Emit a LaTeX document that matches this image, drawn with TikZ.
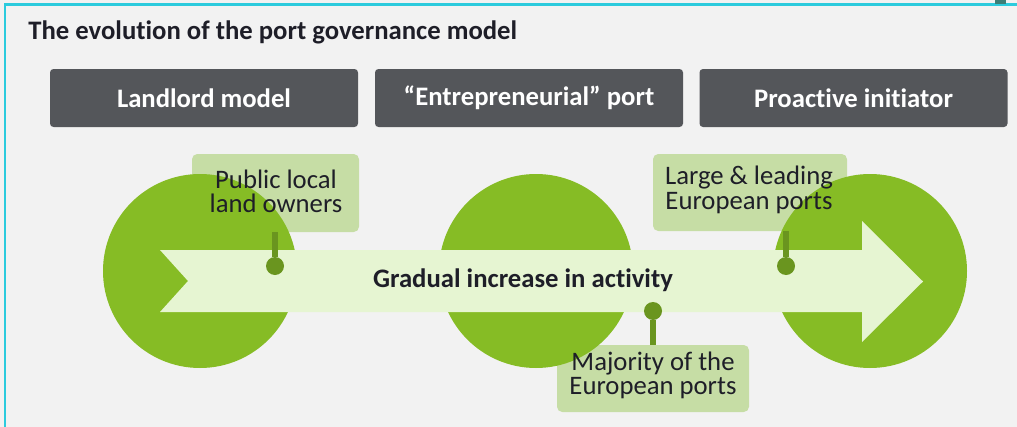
\documentclass[tikz,border=0pt]{standalone}
\usepackage{fontspec}
\setmainfont{Carlito}[Ligatures=NoCommon]
\definecolor{bggray}{HTML}{F2F2F2}
\definecolor{framecyan}{HTML}{2CCBDD}
\definecolor{darkteal}{HTML}{3C7E78}
\definecolor{headgray}{HTML}{54565A}
\definecolor{ballgreen}{HTML}{86BC25}
\definecolor{arrowgreen}{HTML}{E6F5D2}
\definecolor{labelgreen}{HTML}{C6DDA5}
\definecolor{pingreen}{HTML}{6A951F}
\definecolor{textdark}{HTML}{1E1E28}
\def\s{0.02}
\def\punkt#1#2{({(#1)*\s},{-(#2)*\s})}

\begin{document}
\begin{tikzpicture}[
  header/.style={fill=headgray,rounded corners=2pt,text=white,inner sep=0pt,
    font=\bfseries\fontsize{15.2}{18}\selectfont,
    minimum width=308*\s cm,minimum height=58*\s cm},
  ball/.style={circle,fill=ballgreen,inner sep=0pt,minimum size=194*\s cm},
  labelbox/.style={fill=labelgreen,rounded corners=3pt,inner sep=0pt},
  labeltext/.style={text=textdark,align=center,inner sep=0pt,
    font=\fontsize{15.2}{13.8}\selectfont},
  pin/.style={draw=pingreen,line width=3.4pt},
  pindot/.style={circle,fill=pingreen,inner sep=0pt,minimum size=18*\s cm}
]
\useasboundingbox \punkt{0}{0} rectangle \punkt{1017}{427};
\fill[bggray] \punkt{0}{0} rectangle \punkt{1017}{427};
% frame
\draw[framecyan,line width=1.6pt] \punkt{5}{427} -- \punkt{5}{4.5} -- \punkt{1017}{4.5};
\fill[darkteal] \punkt{995}{0} rectangle \punkt{1006}{4};

\node[anchor=base west,inner sep=0pt,text=textdark,font=\bfseries\fontsize{15.2}{18}\selectfont]
  (title) at \punkt{28}{39} {The evolution of the port governance model};

% model headers
\node[header] (h1) at \punkt{204}{98} {Landlord model};
\node[header] (h2) at \punkt{529}{98} {“Entrepreneurial” port};
\node[header] (h3) at \punkt{853.5}{98} {Proactive initiator};

% label boxes (under the circles)
\node[labelbox,minimum width=167*\s cm,minimum height=78*\s cm] (l1) at \punkt{275.5}{193} {};
\node[labelbox,minimum width=194*\s cm,minimum height=77*\s cm] (l3) at \punkt{750}{192.5} {};
\node[labelbox,minimum width=192*\s cm,minimum height=67*\s cm] (l2) at \punkt{653}{378.5} {};

% circles
\node[ball] (c1) at \punkt{200}{271} {};
\node[ball] (c2) at \punkt{536}{271} {};
\node[ball] (c3) at \punkt{870}{271} {};

% arrow
\fill[arrowgreen] \punkt{160}{250} -- \punkt{862}{250} -- \punkt{862}{221} -- \punkt{923}{281.5}
  -- \punkt{862}{342} -- \punkt{862}{312} -- \punkt{160}{312} -- \punkt{188}{281} -- cycle;
\node[text=textdark,inner sep=0pt,font=\bfseries\fontsize{15.2}{18}\selectfont]
  (gradual) at \punkt{523}{280} {Gradual increase in activity};

% pins
\node[pindot] (d1) at \punkt{275}{266} {};
\node[pindot] (d3) at \punkt{786}{266} {};
\node[pindot] (d2) at \punkt{653}{311} {};
\draw[pin] (d1) -- (d1 |- l1.south);
\draw[pin] (d3) -- (d3 |- l3.south);
\draw[pin] (d2) -- (d2 |- l2.north);

% label texts
\node[labeltext] (t1) at \punkt{276}{191} {Public local\\land owners};
\node[labeltext] (t3) at \punkt{749}{190} {Large \& leading\\European ports};
\node[labeltext] (t2) at \punkt{653}{375.5} {Majority of the\\European ports};
\end{tikzpicture}
\end{document}
